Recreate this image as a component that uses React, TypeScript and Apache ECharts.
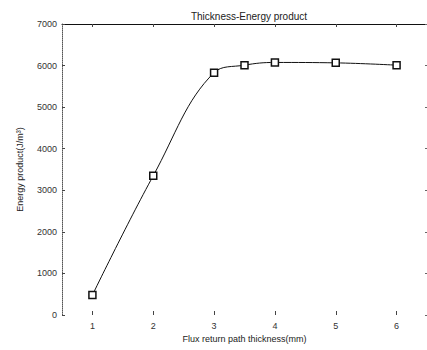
import React, { useEffect, useRef } from "react";
import * as echarts from "echarts";

const thickness = [1, 2, 3, 3.5, 4, 5, 6];
const energy = [480, 3350, 5830, 6010, 6075, 6065, 6010];
const xTicks = [1, 2, 3, 4, 5, 6];

const chartTitle = "Thickness-Energy product";
const xName = "Flux return path thickness(mm)";
const yName = "Energy product(J/m³)";

export default function App() {
  const ref = useRef<HTMLDivElement>(null);
  useEffect(() => {
    if (!ref.current) return;
    const chart = echarts.init(ref.current, null, { renderer: "svg" });
    const font = "Liberation Sans, Arial, sans-serif";
    chart.setOption({
      animation: false,
      backgroundColor: "#fff",
      title: {
        text: chartTitle,
        left: 244,
        top: 6,
        textAlign: "center",
        textStyle: { fontSize: 10, fontWeight: "normal", color: "#222", fontFamily: font },
      },
      grid: { left: 62, right: 0, top: 24, bottom: 35 },
      xAxis: [
        {
          type: "value",
          min: 0.5,
          max: 6.5,
          position: "bottom",
          name: xName,
          nameLocation: "middle",
          nameGap: 19,
          nameTextStyle: { fontSize: 9, color: "#222", fontFamily: font },
          axisLine: { show: false, onZero: false },
          axisTick: { show: true, inside: true, length: 4, customValues: xTicks, lineStyle: { color: "#444" } },
          axisLabel: { customValues: xTicks, fontSize: 9, color: "#333", fontFamily: font, margin: 6 },
          splitLine: { show: false },
        },
        {
          type: "value",
          min: 0.5,
          max: 6.5,
          position: "top",
          axisLine: { show: true, onZero: false, lineStyle: { color: "#111", width: 1 } },
          axisTick: { show: true, inside: true, length: 3, customValues: xTicks, lineStyle: { color: "#444" } },
          axisLabel: { show: false },
          splitLine: { show: false },
        },
      ],
      yAxis: [
        {
          type: "value",
          min: 0,
          max: 7000,
          interval: 1000,
          position: "left",
          name: yName,
          nameLocation: "middle",
          nameGap: 38,
          nameTextStyle: { fontSize: 9, color: "#222", fontFamily: font },
          axisLine: { show: true, onZero: false, lineStyle: { color: "#555", type: "dotted", width: 1 } },
          axisTick: { show: true, inside: true, length: 3, lineStyle: { color: "#444" } },
          axisLabel: { fontSize: 9, color: "#333", fontFamily: font, margin: 5, formatter: (v: number) => String(v) },
          splitLine: { show: false },
        },
        {
          type: "value",
          min: 0,
          max: 7000,
          interval: 1000,
          position: "right",
          axisLine: { show: false, onZero: false },
          axisTick: { show: true, inside: true, length: 2, lineStyle: { color: "#666" } },
          axisLabel: { show: false },
          splitLine: { show: false },
        },
      ],
      series: [
        {
          type: "line",
          data: thickness.map((x, i) => [x, energy[i]]),
          smooth: 0.4,
          symbol: "rect",
          symbolSize: 7,
          itemStyle: { color: "#fff", borderColor: "#111", borderWidth: 1.5 },
          lineStyle: { color: "#111", width: 1 },
        },
      ],
    });
    return () => chart.dispose();
  }, []);
  return <div ref={ref} style={{ width: 427, height: 350, position: "absolute", left: 0, top: 0 }} />;
}
